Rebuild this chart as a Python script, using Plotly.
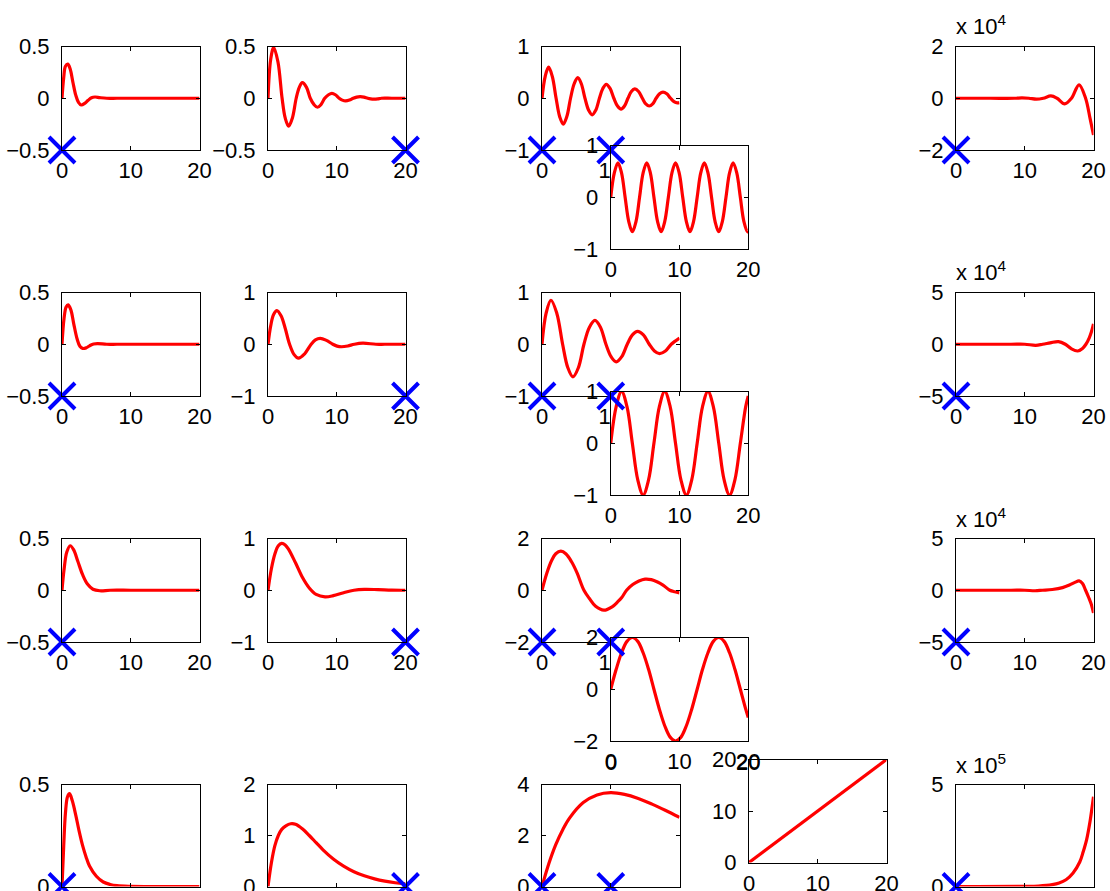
import plotly.graph_objects as go

W, H = 1110, 891

# ---------------- data ----------------
t_r1c1 = [0, 0.25, 0.5, 0.85, 1.2, 1.6, 2.0, 2.4, 2.8, 3.3, 3.8, 4.3, 4.8, 5.5, 6.5, 8, 11, 14, 17, 20]
y_r1c1 = [0, 0.2, 0.31, 0.33, 0.28, 0.15, 0.03, -0.04, -0.065, -0.05, -0.02, 0.005, 0.012, 0.006, 0.0, 0, 0, 0, 0, 0]

t_r1c2 = [0, 0.4, 0.83, 1.45, 2.05, 2.5, 3.0, 3.55, 4.1, 4.55, 5.0, 5.6, 6.15, 6.7, 7.2, 7.7, 8.25, 8.8, 9.3, 9.8,
          10.35, 10.8, 11.3, 11.85, 12.4, 12.9, 13.4, 13.95, 14.5, 14.95, 15.4, 15.95, 16.5, 18, 20]
y_r1c2 = [0, 0.38, 0.49, 0.35, 0, -0.19, -0.27, -0.19, 0, 0.105, 0.15, 0.105, 0, -0.062, -0.087, -0.062, 0, 0.034, 0.048, 0.034,
          0, -0.018, -0.026, -0.018, 0, 0.011, 0.015, 0.011, 0, -0.006, -0.008, -0.006, 0, 0, 0]

t_r1c3 = [0, 0.48, 0.96, 1.5, 2.05, 2.58, 3.1, 3.62, 4.15, 4.68, 5.2, 5.72, 6.25, 6.78, 7.3, 7.82, 8.35, 8.85, 9.35, 9.9,
          10.45, 10.98, 11.5, 12.0, 12.5, 13.0, 13.5, 14.05, 14.6, 15.1, 15.6, 16.1, 16.6, 17.1, 17.6, 18.15, 18.7, 19.2, 19.7, 20]
y_r1c3 = [0, 0.43, 0.6, 0.42, 0, -0.36, -0.5, -0.35, 0, 0.28, 0.4, 0.28, 0, -0.23, -0.32, -0.23, 0, 0.19, 0.27, 0.19,
          0, -0.15, -0.21, -0.15, 0, 0.13, 0.18, 0.13, 0, -0.11, -0.15, -0.11, 0, 0.085, 0.12, 0.085, 0, -0.065, -0.09, -0.085]

t_r1c4 = [0, 0.52, 1.05, 1.57, 2.09, 2.62, 3.14, 3.67, 4.19, 4.71, 5.24, 5.76, 6.28, 6.81, 7.33, 7.85, 8.38, 8.9, 9.42, 9.95,
          10.47, 11.0, 11.52, 12.04, 12.57, 13.09, 13.61, 14.14, 14.66, 15.18, 15.71, 16.23, 16.76, 17.28, 17.8, 18.33,
          18.85, 19.37, 19.9, 20]
y_r1c4 = [0, 0.47, 0.667, 0.47, 0, -0.47, -0.667, -0.47, 0, 0.47, 0.667, 0.47, 0, -0.47, -0.667, -0.47, 0, 0.47, 0.667, 0.47,
          0, -0.47, -0.667, -0.47, 0, 0.47, 0.667, 0.47, 0, -0.47, -0.667, -0.47, 0, 0.47, 0.667, 0.47,
          0, -0.47, -0.667, -0.66]

t_r1c5 = [0, 5, 8.5, 9.6, 10.6, 11.7, 12.7, 13.8, 14.7, 15.8, 16.8, 17.9, 18.85, 19.5, 20]
y_r1c5 = [0, 0, 0, 150, 0, -370, 0, 900, 0, -2200, 0, 5200, 0, -7800, -14200]

t_r2c1 = [0, 0.3, 0.6, 0.9, 1.3, 1.7, 2.2, 2.6, 3.0, 3.5, 4.0, 4.6, 5.2, 6.5, 8, 11, 14, 17, 20]
y_r2c1 = [0, 0.25, 0.36, 0.38, 0.33, 0.2, 0.05, -0.02, -0.04, -0.035, -0.015, 0.003, 0.006, 0.0, 0, 0, 0, 0, 0]

t_r2c2 = [0, 0.4, 0.8, 1.3, 1.9, 2.5, 3.14, 3.8, 4.44, 5.3, 6.28, 6.9, 7.6, 8.5, 9.42, 10.05, 10.7, 11.6, 12.57, 13.8, 15.7, 17, 20]
y_r2c2 = [0, 0.36, 0.57, 0.65, 0.55, 0.31, 0, -0.2, -0.27, -0.19, 0, 0.085, 0.115, 0.075, 0, -0.036, -0.048, -0.033, 0, 0.02, 0, 0, 0]

t_r2c3 = [0, 0.6, 1.3, 2.15, 3.0, 3.75, 4.5, 5.3, 6.1, 6.9, 7.7, 8.5, 9.3, 10.05, 10.8, 11.6, 12.4, 13.15, 13.9,
          14.75, 15.6, 16.35, 17.1, 17.95, 18.8, 20]
y_r2c3 = [0, 0.6, 0.85, 0.6, 0, -0.45, -0.63, -0.45, 0, 0.33, 0.46, 0.33, 0, -0.24, -0.34, -0.24, 0, 0.18, 0.25,
          0.18, 0, -0.13, -0.18, -0.13, 0, 0.12]

t_r2c4 = [0, 0.79, 1.57, 2.36, 3.14, 3.93, 4.71, 5.5, 6.28, 7.07, 7.85, 8.64, 9.42, 10.21, 11.0, 11.78, 12.57,
          13.35, 14.14, 14.92, 15.71, 16.49, 17.28, 18.06, 18.85, 19.63, 20]
y_r2c4 = [0, 0.707, 1, 0.707, 0, -0.707, -1, -0.707, 0, 0.707, 1, 0.707, 0, -0.707, -1, -0.707, 0,
          0.707, 1, 0.707, 0, -0.707, -1, -0.707, 0, 0.707, 0.913]

t_r2c5 = [0, 8, 10, 11.6, 12.6, 13.7, 14.9, 15.9, 16.8, 17.7, 18.4, 18.9, 19.4, 19.7, 20]
y_r2c5 = [0, 0, 0, -1000, 0, 1300, 2600, 0, -4500, -6500, -4000, 0, 6500, 12000, 19700]

t_r3c1 = [0, 0.3, 0.7, 1.2, 1.7, 2.3, 3.0, 3.7, 4.5, 5.5, 7, 10, 14, 20]
y_r3c1 = [0, 0.2, 0.37, 0.43, 0.39, 0.28, 0.15, 0.06, 0.01, -0.005, 0, 0, 0, 0]

t_r3c2 = [0, 0.5, 1.0, 1.5, 2.0, 2.5, 3.0, 4.0, 5.0, 6.0, 7.0, 8.3, 9.5, 11, 12.5, 14, 16, 18, 20]
y_r3c2 = [0, 0.42, 0.7, 0.86, 0.905, 0.875, 0.79, 0.53, 0.25, 0.044, -0.08, -0.128, -0.105, -0.047, 0, 0.017, 0.012, 0.003, 0]

t_r3c3 = [0, 0.7, 1.4, 2.0, 2.75, 3.5, 4.3, 5.1, 6.1, 6.9, 7.8, 9.0, 10.2, 11.0, 11.6, 12.3, 13.2, 14.1, 15.0, 15.9,
          16.8, 17.6, 18.6, 19.3, 20]
y_r3c3 = [0, 0.66, 1.15, 1.41, 1.51, 1.40, 1.10, 0.67, 0, -0.32, -0.62, -0.77, -0.64, -0.45, -0.28, 0, 0.22, 0.36, 0.43, 0.41,
          0.32, 0.2, 0, -0.06, -0.1]

t_r3c4 = [0, 0.79, 1.57, 2.36, 3.14, 3.93, 4.71, 5.5, 6.28, 7.07, 7.85, 8.64, 9.42, 10.21, 11.0, 11.78, 12.57,
          13.35, 14.14, 14.92, 15.71, 16.49, 17.28, 18.06, 18.85, 19.63, 20]
y_r3c4 = [0, 0.77, 1.41, 1.85, 2, 1.85, 1.41, 0.77, 0, -0.77, -1.41, -1.85, -2, -1.85, -1.41, -0.77, 0,
          0.77, 1.41, 1.85, 2, 1.85, 1.41, 0.77, 0, -0.77, -1.09]

t_r3c5 = [0, 8, 10, 11.5, 12.57, 14, 15.5, 16.5, 17.3, 17.9, 18.4, 18.85, 19.3, 19.7, 20]
y_r3c5 = [0, 0, 0, -500, 0, 700, 2500, 5000, 7600, 9000, 6500, 0, -7000, -14000, -22000]

t_r4c1 = [0, 0.25, 0.5, 0.8, 1.1, 1.5, 2.0, 2.5, 3.0, 3.5, 4.0, 5.0, 6.0, 7.0, 8.0, 10, 14, 20]
y_r4c1 = [0, 0.2, 0.36, 0.44, 0.455, 0.42, 0.35, 0.27, 0.2, 0.145, 0.1, 0.05, 0.022, 0.01, 0.004, 0.001, 0, 0]

t_r4c2 = [0, 0.5, 1.0, 1.5, 2.0, 2.6, 3.3, 4.0, 5.0, 6.0, 7.0, 8.0, 9.5, 11, 12.5, 14, 15.5, 17, 18.5, 20]
y_r4c2 = [0, 0.47, 0.8, 1.0, 1.12, 1.19, 1.23, 1.22, 1.13, 1.0, 0.86, 0.72, 0.54, 0.4, 0.29, 0.21, 0.15, 0.105, 0.073, 0.05]

t_r4c3 = [0, 1, 2, 3, 4, 6, 8, 10, 12, 14, 16, 18, 20]
y_r4c3 = [0, 0.9, 1.64, 2.22, 2.68, 3.29, 3.59, 3.68, 3.61, 3.45, 3.23, 2.98, 2.71]

t_r4c4 = [0, 20]
y_r4c4 = [0, 20]

t_r4c5 = [0, 10, 12, 14, 15, 16, 17, 18, 18.5, 19, 19.5, 20]
y_r4c5 = [0, 700, 2400, 9000, 17000, 33000, 65000, 120000, 170000, 230000, 320000, 440000]

# pole markers (x, y) drawn in each panel's own axes
mk_r1c1 = ([0], [-0.5]); mk_r1c2 = ([20], [-0.5]); mk_r1c3 = ([0, 10], [-1, -1]); mk_r1c5 = ([0], [-20000])
mk_r2c1 = ([0], [-0.5]); mk_r2c2 = ([20], [-1]); mk_r2c3 = ([0, 10], [-1, -1]); mk_r2c5 = ([0], [-50000])
mk_r3c1 = ([0], [-0.5]); mk_r3c2 = ([20], [-1]); mk_r3c3 = ([0, 10], [-2, -2]); mk_r3c5 = ([0], [-50000])
mk_r4c1 = ([0], [0]); mk_r4c2 = ([20], [0]); mk_r4c3 = ([0, 10], [0, 0]); mk_r4c5 = ([0], [0])

# axis ranges / ticks
x_range = [0, 20]
x_ticks = [0, 10, 20]
M = "\u2212"
yax = {
    (1, 1): ([-0.5, 0.5], [-0.5, 0, 0.5], [M + "0.5", "0", "0.5"]),
    (1, 2): ([-0.5, 0.5], [-0.5, 0, 0.5], [M + "0.5", "0", "0.5"]),
    (1, 3): ([-1, 1], [-1, 0, 1], [M + "1", "0", "1"]),
    (1, 4): ([-1, 1], [-1, 0, 1], [M + "1", "0", "1"]),
    (1, 5): ([-20000, 20000], [-20000, 0, 20000], [M + "2", "0", "2"]),
    (2, 1): ([-0.5, 0.5], [-0.5, 0, 0.5], [M + "0.5", "0", "0.5"]),
    (2, 2): ([-1, 1], [-1, 0, 1], [M + "1", "0", "1"]),
    (2, 3): ([-1, 1], [-1, 0, 1], [M + "1", "0", "1"]),
    (2, 4): ([-1, 1], [-1, 0, 1], [M + "1", "0", "1"]),
    (2, 5): ([-50000, 50000], [-50000, 0, 50000], [M + "5", "0", "5"]),
    (3, 1): ([-0.5, 0.5], [-0.5, 0, 0.5], [M + "0.5", "0", "0.5"]),
    (3, 2): ([-1, 1], [-1, 0, 1], [M + "1", "0", "1"]),
    (3, 3): ([-2, 2], [-2, 0, 2], [M + "2", "0", "2"]),
    (3, 4): ([-2, 2], [-2, 0, 2], [M + "2", "0", "2"]),
    (3, 5): ([-50000, 50000], [-50000, 0, 50000], [M + "5", "0", "5"]),
    (4, 1): ([0, 0.5], [0, 0.5], ["0", "0.5"]),
    (4, 2): ([0, 2], [0, 1, 2], ["0", "1", "2"]),
    (4, 3): ([0, 4], [0, 2, 4], ["0", "2", "4"]),
    (4, 4): ([0, 20], [0, 10, 20], ["0", "10", "20"]),
    (4, 5): ([0, 500000], [0, 500000], ["0", "5"]),
}
exponents = {1: "4", 2: "4", 3: "4", 4: "5"}

curves = {
    (1, 1): (t_r1c1, y_r1c1), (1, 2): (t_r1c2, y_r1c2), (1, 3): (t_r1c3, y_r1c3), (1, 4): (t_r1c4, y_r1c4), (1, 5): (t_r1c5, y_r1c5),
    (2, 1): (t_r2c1, y_r2c1), (2, 2): (t_r2c2, y_r2c2), (2, 3): (t_r2c3, y_r2c3), (2, 4): (t_r2c4, y_r2c4), (2, 5): (t_r2c5, y_r2c5),
    (3, 1): (t_r3c1, y_r3c1), (3, 2): (t_r3c2, y_r3c2), (3, 3): (t_r3c3, y_r3c3), (3, 4): (t_r3c4, y_r3c4), (3, 5): (t_r3c5, y_r3c5),
    (4, 1): (t_r4c1, y_r4c1), (4, 2): (t_r4c2, y_r4c2), (4, 3): (t_r4c3, y_r4c3), (4, 4): (t_r4c4, y_r4c4), (4, 5): (t_r4c5, y_r4c5),
}
markers = {
    (1, 1): mk_r1c1, (1, 2): mk_r1c2, (1, 3): mk_r1c3, (1, 5): mk_r1c5,
    (2, 1): mk_r2c1, (2, 2): mk_r2c2, (2, 3): mk_r2c3, (2, 5): mk_r2c5,
    (3, 1): mk_r3c1, (3, 2): mk_r3c2, (3, 3): mk_r3c3, (3, 5): mk_r3c5,
    (4, 1): mk_r4c1, (4, 2): mk_r4c2, (4, 3): mk_r4c3, (4, 5): mk_r4c5,
}

# ---------------- geometry (pixels) ----------------
AXW = 137.5
row_h = {1: 103.5, 2: 103.5, 3: 103.5, 4: 102}
col_left = {1: 62, 2: 268, 3: 542, 5: 956}
row_top = {1: 46.5, 2: 292.5, 3: 538.5, 4: 784.5}
C4_SHIFT_X, C4_SHIFT_Y = AXW / 2, 99
OVERLAY_ROWS = [1, 2, 3]
XLABEL_OFFSET = 21.5   # px from axis line to centre of x tick labels


def box(r, c):
    """left, top, height of panel (r, c) in pixels"""
    if c == 4:
        if r == 4:
            return 749, 759.5, 103
        return col_left[3] + C4_SHIFT_X, row_top[r] + C4_SHIFT_Y, row_h[r]
    return col_left[c], row_top[r], row_h[r]


FONT = "Liberation Sans, Arial, Helvetica, sans-serif"
FS = 22
RED = "#ff0000"
BLUE = "#0000ff"

fig = go.Figure()
layout = dict(
    width=W, height=H, margin=dict(l=0, r=0, t=0, b=0, pad=0, autoexpand=False),
    paper_bgcolor="white", plot_bgcolor="white", showlegend=False,
    font=dict(family=FONT, size=FS, color="black"),
)
annotations = []

common = dict(showline=True, linecolor="black", linewidth=1, mirror="allticks",
              ticks="inside", ticklen=4, tickwidth=1, tickcolor="black",
              showgrid=False, zeroline=False, fixedrange=True, automargin=False,
              ticklabeloverflow="allow",
              tickfont=dict(family=FONT, size=FS, color="black"))

marker_style = dict(symbol="x-thin", size=26, color=BLUE, line=dict(width=4, color=BLUE))

for r in range(1, 5):
    for c in range(1, 6):
        idx = (r - 1) * 5 + c
        left, top, hh = box(r, c)
        xd = [left / W, (left + AXW) / W]
        yd = [max(0, 1 - (top + hh) / H), 1 - top / H]
        yr, yt, ytt = yax[(r, c)]
        xn = "xaxis" if idx == 1 else f"xaxis{idx}"
        yn = "yaxis" if idx == 1 else f"yaxis{idx}"
        xid = "x" if idx == 1 else f"x{idx}"
        yid = "y" if idx == 1 else f"y{idx}"
        layout[xn] = dict(common, domain=xd, range=x_range, tickvals=x_ticks, anchor=yid, ticklabelstandoff=1)
        layout[yn] = dict(common, domain=yd, range=yr, tickvals=yt, ticktext=ytt, anchor=xid, ticklabelstandoff=7)
        tx, ty = curves[(r, c)]
        fig.add_trace(go.Scatter(x=tx, y=ty, mode="lines", line=dict(color=RED, width=3.2, shape="spline", smoothing=1.0),
                                 xaxis=xid, yaxis=yid, cliponaxis=False, hoverinfo="skip"))
        if (r, c) in markers:
            mx, my = markers[(r, c)]
            if c == 3 and r in OVERLAY_ROWS:
                fig.add_trace(go.Scatter(x=mx[:1], y=my[:1], mode="markers", marker=marker_style,
                                         xaxis=xid, yaxis=yid, cliponaxis=False, hoverinfo="skip"))
            else:
                fig.add_trace(go.Scatter(x=mx, y=my, mode="markers", marker=marker_style,
                                         xaxis=xid, yaxis=yid, cliponaxis=False, hoverinfo="skip"))
        if c == 5:
            annotations.append(dict(xref="paper", yref="paper", x=(left - 2) / W, y=1 - (top - 5) / H,
                                    xanchor="left", yanchor="bottom", showarrow=False,
                                    text="x 10<sup>" + exponents[r] + "</sup>",
                                    font=dict(family=FONT, size=FS, color="black")))

# the row-3 inset's outer x tick labels sit next to the bottom-row panels and are
# suppressed by plotly; restore them as text placed through that inset's x axis
left34, top34, h34 = box(3, 4)
for v in [x_ticks[0], x_ticks[-1]]:
    annotations.append(dict(xref="x14", yref="paper", x=v, y=1 - (top34 + h34 + XLABEL_OFFSET) / H,
                            xanchor="center", yanchor="middle", showarrow=False, text=str(v),
                            font=dict(family=FONT, size=FS, color="black")))

# second pole marker of column 3 is drawn above the inset panel:
# an invisible axis pair overlaying the inset, sharing the column-3 data scale
for r in OVERLAY_ROWS:
    oid = 20 + r
    c4 = (r - 1) * 5 + 4
    yr = yax[(r, 3)][0]
    hh = row_h[r]
    x_lo = x_range[0] + C4_SHIFT_X / AXW * (x_range[1] - x_range[0])
    x_hi = x_lo + (x_range[1] - x_range[0])
    span = yr[1] - yr[0]
    y_hi = yr[1] - C4_SHIFT_Y / hh * span
    y_lo = y_hi - span
    layout[f"xaxis{oid}"] = dict(overlaying=f"x{c4}", range=[x_lo, x_hi], visible=False, anchor=f"y{oid}",
                                 fixedrange=True, automargin=False)
    layout[f"yaxis{oid}"] = dict(overlaying=f"y{c4}", range=[y_lo, y_hi], visible=False, anchor=f"x{oid}",
                                 fixedrange=True, automargin=False)
    mx, my = markers[(r, 3)]
    fig.add_trace(go.Scatter(x=mx[1:], y=my[1:], mode="markers", marker=marker_style,
                             xaxis=f"x{oid}", yaxis=f"y{oid}", cliponaxis=False, hoverinfo="skip"))

layout["annotations"] = annotations
fig.update_layout(**layout)

fig.write_html("out.html", include_plotlyjs=True, config={"displayModeBar": False},
               post_script="document.body.style.margin='0px';document.body.style.overflow='hidden';")
